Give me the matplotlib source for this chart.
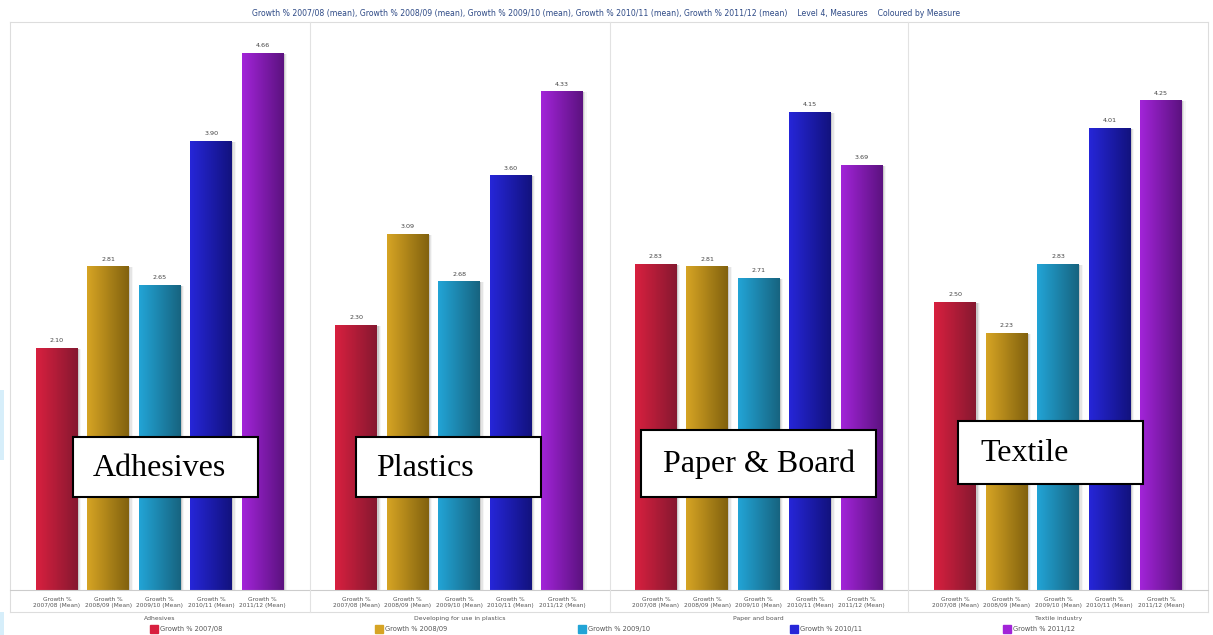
import numpy as np
import matplotlib
matplotlib.use('Agg')
import matplotlib.pyplot as plt
from matplotlib.patches import Rectangle
from matplotlib.lines import Line2D

W, H = 1213, 635

groups = ['Adhesives', 'Developing for use in plastics', 'Paper and board', 'Textile industry']
callouts = ['Adhesives', 'Plastics', 'Paper & Board', 'Textile']
measures = ['Growth % 2007/08', 'Growth % 2008/09', 'Growth % 2009/10',
            'Growth % 2010/11', 'Growth % 2011/12']
tick_labels = ['Growth %\n2007/08 (Mean)', 'Growth %\n2008/09 (Mean)', 'Growth %\n2009/10 (Mean)',
               'Growth %\n2010/11 (Mean)', 'Growth %\n2011/12 (Mean)']
adhesives = [2.10, 2.81, 2.65, 3.90, 4.66]
plastics = [2.30, 3.09, 2.68, 3.60, 4.33]
paper = [2.83, 2.81, 2.71, 4.15, 3.69]
textile = [2.50, 2.23, 2.83, 4.01, 4.25]
values = [adhesives, plastics, paper, textile]

# (light, dark) gradient ends per measure
colors = [('#d8203f', '#861830'), ('#d6a424', '#82620e'), ('#22a4d6', '#176480'),
          ('#2626d8', '#12127e'), ('#a224d8', '#5c1280')]

def px(x, y):
    return x / W, 1 - y / H

fig = plt.figure(figsize=(W / 100, H / 100), dpi=100)

# plot area in pixels: x 10..1208, y 22..590 (baseline)
l, t = px(10, 22)
r, b = px(1208, 590)
ax = fig.add_axes([l, b, r - l, t - b])
ax.set_xlim(0, 4)
ax.set_ylim(0, 4.93)
ax.axis('off')

step = 0.1717
width = 0.14
grad = np.linspace(0, 1, 64).reshape(1, -1)
for g, vals in enumerate(values):
    for i, v in enumerate(vals):
        xc = g + 0.5 + (i - 2) * step
        x0 = xc - width / 2
        # soft shadow
        for k, a in enumerate([0.18, 0.10, 0.05]):
            ax.add_patch(Rectangle((x0 + 0.004 * (k + 1), 0), width, v - 0.01,
                                   color='#555555', alpha=a, lw=0, zorder=1))
        bar = ax.bar(xc, v, width=width, color=colors[i][0], lw=0, zorder=2)[0]
        cmap = matplotlib.colors.LinearSegmentedColormap.from_list('g', colors[i])
        im = ax.imshow(grad, cmap=cmap, aspect='auto', extent=(x0, x0 + width, 0, v), zorder=3)
        im.set_clip_path(bar)
        ax.text(xc, v + 0.04, f'{v:.2f}', ha='center', va='bottom', fontsize=4.6, color='#444444')
        ax.text(xc, -0.06, tick_labels[i], ha='center', va='top', fontsize=4.2,
                color='#555555', linespacing=1.15)
    ax.text(g + 0.5, -0.225, groups[g], ha='center', va='top', fontsize=4.4, color='#555555')

ax.set_xlim(0, 4)
ax.set_ylim(0, 4.93)

# frame, baseline, panel separators
def fline(x1, y1, x2, y2, c='#dddddd', lw=0.8):
    a, bb = px(x1, y1)
    c2, d = px(x2, y2)
    fig.add_artist(Line2D([a, c2], [bb, d], color=c, lw=lw, transform=fig.transFigure))

fline(10, 22, 1208, 22)
fline(10, 612, 1208, 612)
fline(10, 22, 10, 612)
fline(1208, 22, 1208, 612)
fline(10, 590, 1208, 590, c='#cccccc')
for xs in [310, 610, 908]:
    fline(xs, 22, xs, 612, c='#e2e2e2')

# title
fig.text(*px(606, 13), 'Growth % 2007/08 (mean), Growth % 2008/09 (mean), Growth % 2009/10 (mean), '
         'Growth % 2010/11 (mean), Growth % 2011/12 (mean)    Level 4, Measures    Coloured by Measure',
         ha='center', va='center', fontsize=5.6, color='#2e4a86')

# legend
leg_x = [150, 375, 578, 790, 1003]
for i, m in enumerate(measures):
    x, y = px(leg_x[i], 633)
    fig.add_artist(Rectangle((x, y), 8 / W, 8 / H, color=colors[i][0], transform=fig.transFigure))
    fig.text(*px(leg_x[i] + 10, 629), m, ha='left', va='center', fontsize=4.8, color='#555555')

# light blue edge artifacts
for y1, y2 in [(390, 460), (612, 635)]:
    x, y = px(0, y2)
    fig.add_artist(Rectangle((x, y), 4 / W, (y2 - y1) / H, color='#d6eefa', lw=0,
                             transform=fig.transFigure))

# callout boxes
boxes = [(73, 437, 258, 497), (356, 437, 541, 497), (641, 430, 876, 497), (958, 421, 1143, 484)]
text_x = [93, 376, 663, 980]
for (x1, y1, x2, y2), tx, label in zip(boxes, text_x, callouts):
    x, y = px(x1, y2)
    fig.add_artist(Rectangle((x, y), (x2 - x1) / W, (y2 - y1) / H, facecolor='white',
                             edgecolor='black', lw=1.5, transform=fig.transFigure, zorder=10))
    fig.text(*px(tx, (y1 + y2) / 2 + 1), label, ha='left', va='center', fontsize=23,
             family='Liberation Serif', color='black', zorder=11)

fig.savefig('out.png', dpi=100)
